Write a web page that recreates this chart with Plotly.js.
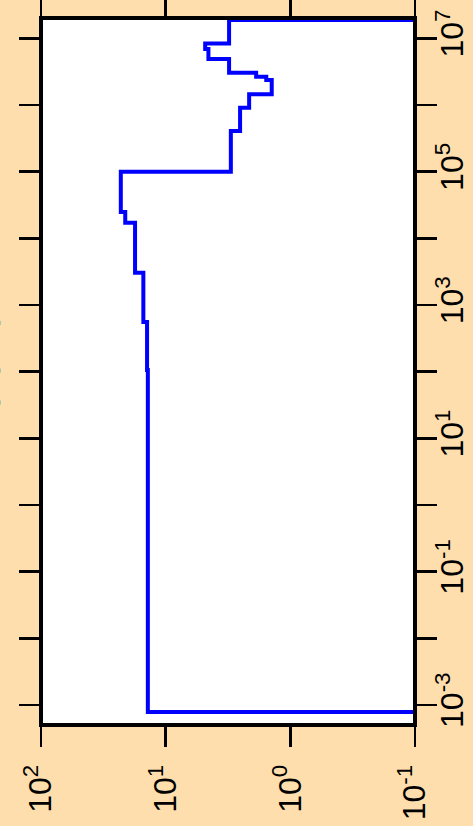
<!DOCTYPE html>
<html>
<head>
<meta charset="utf-8">
<script src="https://cdn.plot.ly/plotly-3.0.1.min.js"></script>
<style>
  html, body { margin: 0; padding: 0; background: #FFDEAD; }
  #chart { width: 473px; height: 826px; }
</style>
</head>
<body>
<div id="chart"></div>
<script>
// Bin edges along the (vertical) log axis, and bin heights along the (horizontal) reversed log axis
const binEdges = [7.85e-4, 106, 557, 3050, 17100, 24800, 99800, 4.07e5, 9.1e5,
                  1.45e6, 2.37e6, 2.65e6, 3.05e6, 4.9e6, 6.9e6, 8.4e6, 1.88e7];
const binValues = [13.9, 14.1, 15.1, 17.6, 21.1, 22.9, 3.0, 2.53, 2.14,
                   1.41, 1.56, 1.88, 3.10, 4.54, 4.82, 3.10];
const baseline = 0.1;

const valueTicks = [100, 10, 1, 0.1];
const valueTickText = ['10<sup>2</sup>', '10<sup>1</sup>', '10<sup>0</sup>', '10<sup>-1</sup>'];
const posTicks = [1e-3, 1e-2, 1e-1, 1, 10, 100, 1e3, 1e4, 1e5, 1e6, 1e7];
const posTickText = ['10<sup>-3</sup>', '', '10<sup>-1</sup>', '', '10<sup>1</sup>', '',
                     '10<sup>3</sup>', '', '10<sup>5</sup>', '', '10<sup>7</sup>'];
const titleText = '(kpc)';

// build the closed step outline
const xs = [baseline];
const ys = [binEdges[0]];
for (let i = 0; i < binValues.length; i++) {
  xs.push(binValues[i], binValues[i]);
  ys.push(binEdges[i], binEdges[i + 1]);
}
xs.push(baseline, baseline);
ys.push(binEdges[binEdges.length - 1], binEdges[0]);

const font = 'Liberation Sans, Arial, sans-serif';

const trace = {
  x: xs, y: ys, type: 'scatter', mode: 'lines',
  line: { color: '#0000FF', width: 4 },
  hoverinfo: 'skip'
};

const layout = {
  width: 473, height: 826,
  paper_bgcolor: '#FFDEAD',
  plot_bgcolor: '#FFFFFF',
  showlegend: false,
  margin: { l: 41, r: 58, t: 18, b: 101, pad: 0 },
  xaxis: {
    type: 'log', range: [2, -1],
    tickmode: 'array', tickvals: valueTicks, ticktext: valueTickText,
    tickangle: -90, ticks: 'outside', ticklen: 21, tickwidth: 2.5, tickcolor: '#000',
    ticklabelstandoff: 5,
    mirror: 'ticks', showline: false, showgrid: false, zeroline: false,
    tickfont: { family: font, size: 32, color: '#000' }
  },
  yaxis: {
    type: 'log', range: [-3.3, 7.305], side: 'right',
    tickmode: 'array', tickvals: posTicks, ticktext: posTickText,
    tickangle: -90, ticks: 'outside', ticklen: 21, tickwidth: 2.5, tickcolor: '#000',
    ticklabelstandoff: -12,
    mirror: 'ticks', showline: false, showgrid: false, zeroline: false,
    tickfont: { family: font, size: 32, color: '#000' }
  },
  shapes: [{
    type: 'rect', xref: 'paper', yref: 'paper', x0: 0, x1: 1, y0: 0, y1: 1,
    line: { color: '#000', width: 4 }, layer: 'above'
  }],
  annotations: [{
    xref: 'paper', yref: 'paper', x: -0.18, y: 0.513, xanchor: 'center', yanchor: 'middle',
    text: titleText, textangle: -90, showarrow: false,
    font: { family: font, size: 48, color: '#000' }
  }]
};

Plotly.newPlot('chart', [trace], layout, { displayModeBar: false, staticPlot: true });
</script>
</body>
</html>
